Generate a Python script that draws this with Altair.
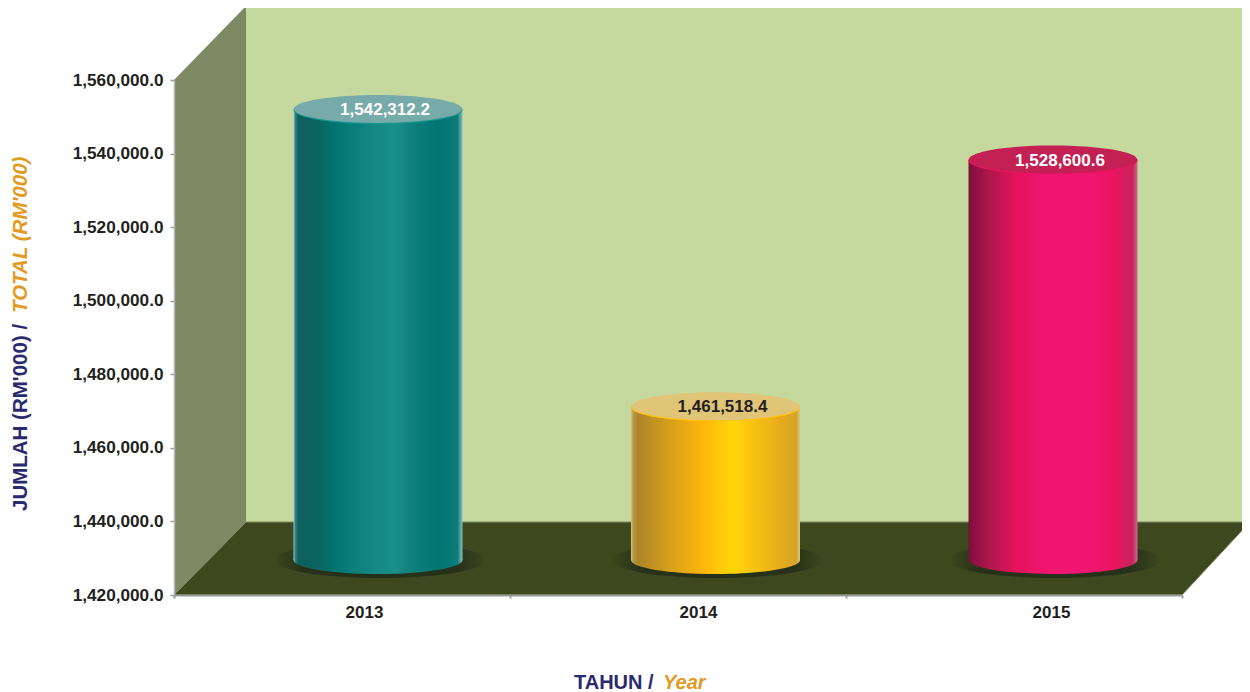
import altair as alt
import pandas as pd

years = ["2013", "2014", "2015"]
values = [1542312.2, 1461518.4, 1528600.6]
value_labels = ["1,542,312.2", "1,461,518.4", "1,528,600.6"]
label_colors = ["#ffffff", "#231f20", "#ffffff"]
face_colors = ["#76abaa", "#e0c478", "#c32054"]
rim_colors = ["#17968f", "#ffc20e", "#ea1460"]
body_stops = [
    [(0, "#9cc4c2"), (0.012, "#2f7f7e"), (0.03, "#0f5f5e"), (0.15, "#0b6460"), (0.24, "#007570"),
     (0.45, "#128683"), (0.6, "#1a908a"), (0.68, "#12827e"), (0.85, "#007570"), (0.97, "#0b7c7a"), (1, "#8fbcbc")],
    [(0, "#d8c48c"), (0.012, "#b89a48"), (0.04, "#ad8528"), (0.2, "#d09c1c"), (0.43, "#fdb70c"),
     (0.6, "#ffd60a"), (0.68, "#fbc90f"), (0.88, "#e8ac1a"), (0.98, "#d5a52a"), (1, "#dcc88e")],
    [(0, "#7a1038"), (0.03, "#8a1040"), (0.13, "#b0174c"), (0.28, "#e5125c"), (0.45, "#ee1670"),
     (0.7, "#ef1672"), (0.85, "#ec1460"), (0.97, "#c9235c"), (1, "#d06a88")],
]
wall_color = "#c5d99f"
side_color = "#7d8a63"
floor_color = "#3d481e"
shadow_color = "#263119"
navy = "#2b2a6e"
amber = "#e39a24"
font = "Liberation Sans"

y_ticks = [1420000, 1440000, 1460000, 1480000, 1500000, 1520000, 1540000, 1560000]
y_domain = [1420000, 1560000]

PLOT_W, PLOT_H = 1008, 515
BAR_W = 169
DX_BY_YEAR = [36, 37.5, 39]
DY = -36

side_shape = "M0,0L72,-74L72,442L0,515Z"
wall_shape = "M72,-74L1076,-74L1076,442L72,442Z"
floor_shape = "M0,515L72,442L1076,442L1008,515Z"
top_ellipse = "M-1,0A1,0.166,0,1,0,1,0A1,0.166,0,1,0,-1,0Z"
shadow_ellipse = "M-1,0A1,0.17,0,1,0,1,0A1,0.17,0,1,0,-1,0Z"

df = pd.DataFrame({
    "year": years,
    "value": values,
    "label": value_labels,
    "base": [y_domain[0]] * 3,
})
one = pd.DataFrame({"k": [0]})

x_scale = alt.Scale(domain=years, paddingInner=0, paddingOuter=0)
y_scale = alt.Scale(domain=y_domain, nice=False, zero=False)
x_axis = alt.Axis(
    labelAngle=0, labelFont=font, labelFontSize=17, labelFontWeight="bold", labelColor="#231f20",
    labelPadding=6, tickBand="extent", tickSize=3, tickColor="#9a9a9a", tickWidth=2,
    domainColor="#9a9a9a", domainWidth=2, grid=False, zindex=1,
    labelOffset={"condition": [{"test": "datum.value === '2013'", "value": 22},
                               {"test": "datum.value === '2014'", "value": 20}], "value": 37},
)
y_axis = alt.Axis(
    values=y_ticks, format=",.1f", labelFont=font, labelFontSize=17.2, labelFontWeight="bold",
    labelColor="#231f20", labelPadding=7, tickSize=4, tickColor="#9a9a9a", tickWidth=1.5,
    domainColor="#b5b5b5", domainWidth=1.5, grid=False, zindex=1,
)
x_enc = alt.X("year:N", scale=x_scale, axis=x_axis, title=None)
y_val = alt.Y("value:Q", scale=y_scale, axis=y_axis, title=None)
y_base = alt.Y("base:Q", scale=y_scale, axis=y_axis, title=None)


def panel(shape, fill, stroke=None):
    kw = {"stroke": stroke, "strokeWidth": 1} if stroke else {"strokeWidth": 0}
    return alt.Chart(one).mark_point(filled=True, shape=shape, size=4, fill=fill, opacity=1, **kw).encode(
        x=alt.value(0), y=alt.value(0))


def title_text(text, x, y, color, size, italic=False, angle=0):
    return alt.Chart(one).mark_text(
        text=text, font=font, fontSize=size, fontWeight="bold", fontStyle="italic" if italic else "normal",
        color=color, align="left", baseline="alphabetic", angle=angle,
    ).encode(x=alt.value(x), y=alt.value(y))


layers = [
    panel(wall_shape, wall_color),
    panel(side_shape, side_color),
    panel(floor_shape, floor_color, "#7e8a63"),
]

for i, year in enumerate(years):
    row = df[df["year"] == year]
    dx = DX_BY_YEAR[i]
    body_fill = alt.LinearGradient(
        gradient="linear", x1=0, x2=1, y1=0, y2=0,
        stops=[alt.GradientStop(offset=o, color=c) for o, c in body_stops[i]])
    shadow_fill = alt.RadialGradient(
        gradient="radial", x1=0.5, y1=0.5, x2=0.5, y2=0.5, r1=0, r2=0.5,
        stops=[alt.GradientStop(offset=0, color=shadow_color),
               alt.GradientStop(offset=0.72, color=shadow_color),
               alt.GradientStop(offset=1, color=floor_color)])
    base = alt.Chart(row)
    layers.append(base.mark_point(filled=True, shape=shadow_ellipse, size=212 ** 2, fill=shadow_fill, opacity=1,
                                  strokeWidth=0, xOffset=dx + 2, yOffset=DY + 1).encode(x=x_enc, y=y_base))
    layers.append(base.mark_point(filled=True, shape=top_ellipse, size=BAR_W ** 2, fill=body_fill, opacity=1,
                                  strokeWidth=0, xOffset=dx, yOffset=DY + 1).encode(x=x_enc, y=y_base))
    layers.append(base.mark_bar(size=BAR_W, fill=body_fill, xOffset=dx, x2Offset=dx, yOffset=DY, y2Offset=DY + 1).encode(
        x=x_enc, y=y_val, y2=alt.Y2("base:Q")))
    layers.append(base.mark_point(filled=True, shape=top_ellipse, size=BAR_W ** 2, fill=rim_colors[i], opacity=1,
                                  strokeWidth=0, xOffset=dx, yOffset=DY + 1).encode(x=x_enc, y=y_val))
    layers.append(base.mark_point(filled=True, shape=top_ellipse, size=(BAR_W - 1) ** 2, fill=face_colors[i], opacity=1,
                                  strokeWidth=0, xOffset=dx, yOffset=DY).encode(x=x_enc, y=y_val))
    layers.append(base.mark_text(font=font, fontSize=17, fontWeight="bold", color=label_colors[i], align="center",
                                 baseline="middle", xOffset=dx + 7, yOffset=DY + 1).encode(
        x=x_enc, y=y_val, text="label:N"))

layers += [
    title_text("JUMLAH (RM'000) /", -147, 431, navy, 20.5, angle=270),
    title_text("TOTAL (RM'000)", -147, 233, amber, 20.5, italic=True, angle=270),
    title_text("TAHUN /", 400, 609, navy, 20),
    title_text("Year", 489, 609, amber, 20, italic=True),
]

chart = alt.layer(*layers).properties(
    width=PLOT_W, height=PLOT_H,
    padding={"left": 166, "top": 72, "right": 60, "bottom": 97},
    autosize=alt.AutoSizeParams(type="none"),
    background="#ffffff",
).configure_view(stroke=None)

chart.save("out.html", embed_options={"renderer": "svg", "actions": False})
